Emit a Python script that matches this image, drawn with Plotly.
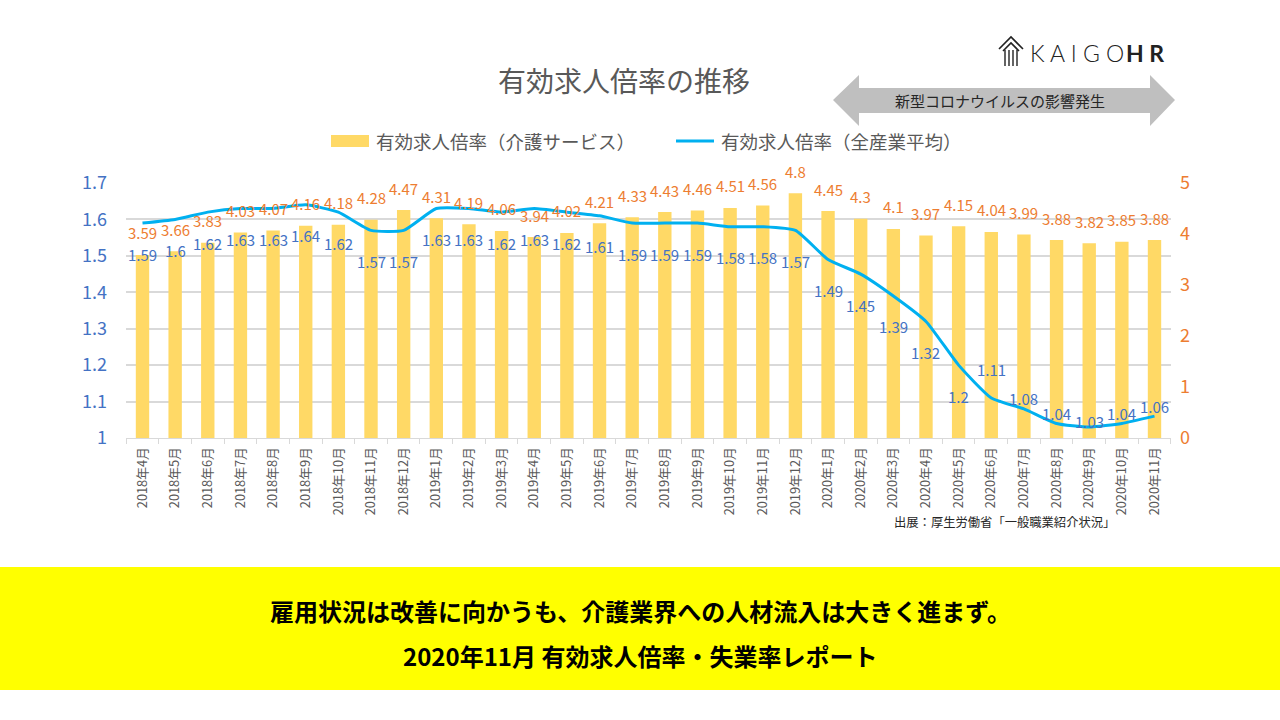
import plotly.graph_objects as go

months = ["2018年4月","2018年5月","2018年6月","2018年7月","2018年8月","2018年9月","2018年10月","2018年11月","2018年12月",
          "2019年1月","2019年2月","2019年3月","2019年4月","2019年5月","2019年6月","2019年7月","2019年8月","2019年9月",
          "2019年10月","2019年11月","2019年12月","2020年1月","2020年2月","2020年3月","2020年4月","2020年5月","2020年6月",
          "2020年7月","2020年8月","2020年9月","2020年10月","2020年11月"]
care_ratio = [3.59,3.66,3.83,4.03,4.07,4.16,4.18,4.28,4.47,4.31,4.19,4.06,3.94,4.02,4.21,4.33,4.43,4.46,4.51,4.56,4.8,
              4.45,4.3,4.1,3.97,4.15,4.04,3.99,3.88,3.82,3.85,3.88]
all_ratio = [1.59,1.6,1.62,1.63,1.63,1.64,1.62,1.57,1.57,1.63,1.63,1.62,1.63,1.62,1.61,1.59,1.59,1.59,1.58,1.58,1.57,
             1.49,1.45,1.39,1.32,1.2,1.11,1.08,1.04,1.03,1.04,1.06]
left_ticks = [1, 1.1, 1.2, 1.3, 1.4, 1.5, 1.6, 1.7]
right_ticks = [0, 1, 2, 3, 4, 5]

# label placement (pixels) for the line values: below, except the last few above
line_label_shift = [-31] * 26 + [28, 10, 10, 6, 10, 10]

FONT = "Noto Sans CJK JP"
BAR_C = "#FFD966"
LINE_C = "#00B0F0"
ORANGE = "#ED7D31"
BLUE = "#4472C4"
GRAY_T = "#595959"
GRID = "#D9D9D9"

W, H = 1280, 720
def px(x): return x / W
def py(y): return 1 - y / H

fig = go.Figure()
fig.add_trace(go.Bar(x=months, y=care_ratio, name="有効求人倍率（介護サービス）",
                     marker=dict(color=BAR_C, line=dict(width=0)), width=0.41, yaxis="y"))
fig.add_trace(go.Scatter(x=months, y=all_ratio, name="有効求人倍率（全産業平均）", mode="lines",
                         line=dict(color=LINE_C, width=3, shape="spline", smoothing=0.5), yaxis="y2"))

annotations = []
for m, v in zip(months, care_ratio):
    annotations.append(dict(x=m, y=v, xref="x", yref="y", text=f"{v:g}", showarrow=False, yshift=22,
                            font=dict(family=FONT, size=15, color=ORANGE)))
for m, v, s in zip(months, all_ratio, line_label_shift):
    annotations.append(dict(x=m, y=v, xref="x", yref="y2", text=f"{v:g}", showarrow=False, yshift=s,
                            font=dict(family=FONT, size=15, color=BLUE)))

# title
annotations.append(dict(x=px(624), y=py(80), xref="paper", yref="paper", text="有効求人倍率の推移", showarrow=False,
                        font=dict(family=FONT, size=28, color=GRAY_T), xanchor="center", yanchor="middle"))
# legend texts
annotations.append(dict(x=px(374), y=py(141), xref="paper", yref="paper", text="有効求人倍率（介護サービス）", showarrow=False,
                        font=dict(family=FONT, size=18.5, color=GRAY_T), xanchor="left", yanchor="middle"))
annotations.append(dict(x=px(719), y=py(141), xref="paper", yref="paper", text="有効求人倍率（全産業平均）", showarrow=False,
                        font=dict(family=FONT, size=18.5, color=GRAY_T), xanchor="left", yanchor="middle"))
# arrow text
annotations.append(dict(x=px(1000), y=py(101), xref="paper", yref="paper", text="新型コロナウイルスの影響発生", showarrow=False,
                        font=dict(family=FONT, size=15, color="#262626"), xanchor="center", yanchor="middle"))
# logo
annotations.append(dict(x=px(1028), y=py(53), xref="paper", yref="paper", text="K A I G O", showarrow=False,
                        font=dict(family="Lato", size=23, color="#222222", weight=300), xanchor="left", yanchor="middle"))
annotations.append(dict(x=px(1166), y=py(53), xref="paper", yref="paper", text="<b>H R</b>", showarrow=False,
                        font=dict(family="Lato", size=23, color="#222222"), xanchor="right", yanchor="middle"))
# source
annotations.append(dict(x=px(1117), y=py(522), xref="paper", yref="paper", text="出展：厚生労働省「一般職業紹介状況」", showarrow=False,
                        font=dict(family=FONT, size=12.3, color="#262626"), xanchor="right", yanchor="middle"))
# banner texts
annotations.append(dict(x=0.5, y=py(610), xref="paper", yref="paper", text="<b>雇用状況は改善に向かうも、介護業界への人材流入は大きく進まず。</b>",
                        showarrow=False, font=dict(family=FONT, size=24, color="#000000"), xanchor="center", yanchor="middle"))
annotations.append(dict(x=0.5, y=py(655), xref="paper", yref="paper", text="<b>2020年11月 有効求人倍率・失業率レポート</b>",
                        showarrow=False, font=dict(family=FONT, size=24, color="#000000"), xanchor="center", yanchor="middle"))

def path(points):
    s = "M " + " L ".join(f"{px(x)},{py(y)}" for x, y in points) + " Z"
    return s

shapes = [
    # banner
    dict(type="rect", xref="paper", yref="paper", x0=0, x1=1, y0=py(690), y1=py(567), fillcolor="#FFFF00",
         line=dict(width=0), layer="below"),
    # double arrow
    dict(type="path", xref="paper", yref="paper", fillcolor="#BFBFBF", line=dict(width=0), layer="below",
         path=path([(833, 100), (859, 75), (859, 88), (1150, 88), (1150, 75), (1175, 100), (1150, 126),
                    (1150, 113), (859, 113), (859, 126)])),
    # legend symbols
    dict(type="rect", xref="paper", yref="paper", x0=px(331), x1=px(369), y0=py(147), y1=py(135), fillcolor=BAR_C,
         line=dict(width=0)),
    dict(type="line", xref="paper", yref="paper", x0=px(676), x1=px(714), y0=py(141), y1=py(141),
         line=dict(color=LINE_C, width=3)),
]
# logo icon
for pts in [[(999, 49), (1011, 37), (1023, 49)], [(1003, 51), (1011, 43), (1019, 51)]]:
    shapes.append(dict(type="path", xref="paper", yref="paper",
                       path="M " + " L ".join(f"{px(x)},{py(y)}" for x, y in pts), line=dict(color="#222222", width=1.6)))
for xx in [1005, 1009, 1013, 1017]:
    shapes.append(dict(type="line", xref="paper", yref="paper", x0=px(xx), x1=px(xx), y0=py(50), y1=py(66),
                       line=dict(color="#222222", width=1.4)))

fig.update_layout(
    width=W, height=H, margin=dict(l=0, r=0, t=0, b=0, autoexpand=False), autosize=False,
    paper_bgcolor="white", plot_bgcolor="white", showlegend=False,
    xaxis=dict(domain=[px(126), px(1171)], type="category", tickangle=-90,
               tickfont=dict(family=FONT, size=12.8, color=GRAY_T),
               ticks="outside", tickson="boundaries", ticklen=5, tickcolor=GRID, ticklabelstandoff=3,
               showline=True, linecolor=GRID, linewidth=1, showgrid=False, anchor="y", automargin=False),
    yaxis=dict(domain=[py(438), py(183)], range=[0, 5], side="right", tickmode="array",
               tickvals=right_ticks, ticktext=[f"{v:g}" for v in right_ticks],
               tickfont=dict(family=FONT, size=18, color=ORANGE), showgrid=False, zeroline=False,
               ticks="", showline=False, ticklabelstandoff=8, automargin=False),
    yaxis2=dict(overlaying="y", side="left", range=[1, 1.7], tickmode="array",
                tickvals=left_ticks, ticktext=[f"{v:g}" for v in left_ticks],
                tickfont=dict(family=FONT, size=18, color=BLUE), showgrid=True, gridcolor=GRID, gridwidth=1.5,
                zeroline=False, ticks="", showline=False, anchor="x", ticklabelstandoff=18, automargin=False),
    annotations=annotations, shapes=shapes,
    font=dict(family=FONT),
)

fig.write_html("out.html", config={"displayModeBar": False}, post_script="document.body.style.margin='0';")
